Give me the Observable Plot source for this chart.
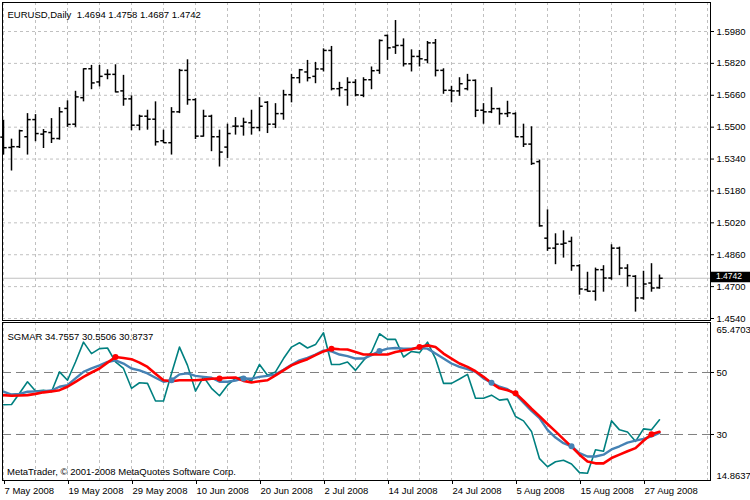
<!DOCTYPE html>
<html><head><meta charset="utf-8">
<script src="https://cdn.jsdelivr.net/npm/d3@7"></script>
<script src="https://cdn.jsdelivr.net/npm/@observablehq/plot@0.6"></script>
<style>
body{margin:0;background:#fff;}
#chart{position:relative;width:750px;height:500px;background:#fff;overflow:hidden;}
#chart svg{position:absolute;left:0;display:block;}
</style></head><body><div id="chart"></div>
<script>
// ---------- data ----------
const opens  = [1.5450,1.5398,1.5402,1.5452,1.5538,1.5465,1.5473,1.5443,1.5594,1.5515,1.5648,1.5793,1.5727,1.5765,1.5765,1.5682,1.5642,1.5510,1.5555,1.5540,1.5432,1.5422,1.5577,1.5785,1.5638,1.5455,1.5555,1.5452,1.5400,1.5505,1.5505,1.5522,1.5498,1.5625,1.5515,1.5568,1.5663,1.5748,1.5777,1.5755,1.5792,1.5885,1.5693,1.5688,1.5725,1.5660,1.5738,1.5785,1.5960,1.5902,1.5910,1.5818,1.5855,1.5838,1.5923,1.5785,1.5685,1.5682,1.5693,1.5735,1.5585,1.5577,1.5593,1.5568,1.5568,1.5452,1.5415,1.5327,1.4943,1.4893,1.4913,1.4927,1.4805,1.4685,1.4677,1.4785,1.4743,1.4893,1.4793,1.4752,1.4643,1.4718,1.4694];
const highs  = [1.5535,1.5440,1.5485,1.5568,1.5563,1.5488,1.5543,1.5598,1.5632,1.5680,1.5793,1.5810,1.5810,1.5788,1.5813,1.5760,1.5657,1.5560,1.5585,1.5627,1.5485,1.5598,1.5790,1.5838,1.5643,1.5585,1.5560,1.5485,1.5515,1.5548,1.5545,1.5585,1.5648,1.5628,1.5618,1.5685,1.5765,1.5790,1.5835,1.5825,1.5893,1.5905,1.5725,1.5748,1.5738,1.5748,1.5802,1.5938,1.5962,1.6035,1.5943,1.5888,1.5885,1.5930,1.5940,1.5793,1.5705,1.5748,1.5765,1.5737,1.5618,1.5698,1.5595,1.5630,1.5572,1.5515,1.5502,1.5335,1.5085,1.4965,1.4980,1.4948,1.4810,1.4772,1.4793,1.4805,1.4910,1.4898,1.4810,1.4755,1.4777,1.4815,1.4758];
const lows   = [1.5360,1.5280,1.5393,1.5360,1.5427,1.5393,1.5418,1.5435,1.5499,1.5499,1.5627,1.5688,1.5702,1.5738,1.5672,1.5605,1.5482,1.5482,1.5485,1.5405,1.5418,1.5360,1.5568,1.5610,1.5438,1.5450,1.5377,1.5300,1.5343,1.5460,1.5455,1.5460,1.5477,1.5468,1.5493,1.5535,1.5622,1.5718,1.5727,1.5718,1.5777,1.5682,1.5652,1.5605,1.5652,1.5648,1.5688,1.5765,1.5835,1.5865,1.5802,1.5777,1.5802,1.5818,1.5752,1.5665,1.5622,1.5655,1.5682,1.5548,1.5515,1.5568,1.5510,1.5548,1.5447,1.5398,1.5308,1.4998,1.4877,1.4810,1.4843,1.4777,1.4657,1.4672,1.4627,1.4672,1.4732,1.4755,1.4698,1.4572,1.4632,1.4672,1.4687];
const closes = [1.5397,1.5402,1.5482,1.5538,1.5468,1.5477,1.5443,1.5577,1.5514,1.5652,1.5793,1.5722,1.5755,1.5765,1.5677,1.5642,1.5510,1.5555,1.5540,1.5427,1.5422,1.5577,1.5785,1.5638,1.5455,1.5555,1.5452,1.5375,1.5468,1.5505,1.5525,1.5498,1.5605,1.5515,1.5568,1.5663,1.5748,1.5788,1.5748,1.5792,1.5885,1.5693,1.5698,1.5725,1.5662,1.5738,1.5783,1.5935,1.5898,1.5910,1.5818,1.5855,1.5843,1.5923,1.5785,1.5685,1.5682,1.5718,1.5735,1.5585,1.5577,1.5593,1.5568,1.5572,1.5452,1.5415,1.5318,1.5005,1.4893,1.4913,1.4918,1.4805,1.4688,1.4677,1.4785,1.4743,1.4893,1.4793,1.4755,1.4643,1.4713,1.4693,1.4742];

const sgmarRaw  = [39.6,39.7,43.3,47.0,44.0,44.3,43.8,50.2,47.5,53.4,59.8,56.1,57.7,57.9,53.4,51.3,44.9,46.7,46.5,40.8,40.8,49.7,58.2,52.3,44.0,48.6,44.9,42.5,45.9,48.1,48.6,47.2,52.6,49.1,50.2,54.5,58.2,59.6,57.9,59.0,62.8,52.6,52.6,53.4,50.7,53.9,56.6,62.5,60.7,60.7,55.0,56.8,56.4,59.8,54.5,46.5,46.5,47.9,49.4,41.7,41.7,42.7,41.1,41.4,35.8,34.4,31.0,22.2,19.6,21.2,21.7,20.5,17.7,17.5,25.1,24.6,34.4,31.5,30.8,27.8,31.8,31.5,34.7557];
const sgmarFast = [43.8,42.9,43.1,43.8,43.9,44.0,44.2,45.4,45.9,48.1,50.2,51.3,52.3,53.4,53.9,52.9,51.3,50.7,49.7,48.3,47.0,47.5,49.4,49.7,48.9,48.6,48.3,47.0,47.0,47.4,48.1,48.0,48.6,48.9,49.4,50.9,52.5,53.9,54.7,55.8,57.1,56.8,55.8,55.3,54.5,54.5,55.6,56.9,57.7,57.9,57.7,57.7,57.9,57.7,56.1,54.5,52.9,51.8,51.1,50.2,48.1,46.7,45.4,44.6,42.9,40.3,37.6,35.3,31.5,29.0,27.2,26.2,24.0,22.9,22.9,23.5,25.2,26.2,27.4,28.0,28.6,29.4,30.5506];
const sgmarSlow = [42.7,42.5,42.6,42.7,43.1,43.6,43.9,44.3,45.4,47.0,48.6,50.0,51.3,53.2,55.0,54.7,54.3,53.2,51.8,49.6,47.5,47.2,47.5,47.5,47.5,47.7,48.0,48.1,48.3,48.4,47.3,46.8,47.2,47.5,49.1,50.7,52.3,53.4,54.3,55.6,56.8,57.7,57.5,57.4,56.6,55.8,55.8,55.8,55.8,56.6,57.1,57.5,58.2,58.75,58.2,56.1,54.5,52.9,51.8,50.4,48.6,46.6,44.9,44.3,43.3,40.9,38.3,35.9,33.4,31.0,28.5,26.1,23.5,21.3,20.7,20.7,22.4,23.5,24.6,25.6,28.0,30.1,30.8737];
const sellSignalBars = [14,27,41,52,64,81];   // red dots
const buySignalBars  = [21,30,47,61,71];      // steel-blue dots

const priceTicks = [1.5980,1.5820,1.5660,1.5500,1.5340,1.5180,1.5020,1.4860,1.4700,1.4540];
const levelTicks = [50,30];
const indicatorMax = 65.4703;
const indicatorMin = 14.8637;
const dateTickBars = [0,8,16,24,32,40,48,56,64,72,80];
const dateTickLabels = ["7 May 2008","19 May 2008","29 May 2008","10 Jun 2008","20 Jun 2008","2 Jul 2008","14 Jul 2008","24 Jul 2008","5 Aug 2008","15 Aug 2008","27 Aug 2008"];
const headerText = "EURUSD,Daily  1.4694 1.4758 1.4687 1.4742";
const indicatorTitle = "SGMAR 34.7557 30.5506 30.8737";
const copyrightText = "MetaTrader, \u00a9 2001-2008 MetaQuotes Software Corp.";
const lastPrice = 1.4742;

// ---------- build ----------
const FONT = '"Liberation Sans", Arial, sans-serif';
const bars = opens.map((o, i) => ({i, o, h: highs[i], l: lows[i], c: closes[i]}));
const ind = sgmarRaw.map((v, i) => ({i, raw: v, fast: sgmarFast[i], slow: sgmarSlow[i]}));
const gridBars = d3.range(0, 89, 4);
const xDomain = [-0.125, 88.375];
const grid = {stroke: "#c0c0c0", strokeDasharray: "3,3", strokeWidth: 1};
const tickHalf = 0.4;
const style = {fontFamily: FONT, fontSize: "9.5px", color: "black", background: "transparent", overflow: "visible"};

const main = Plot.plot({
  width: 750, height: 322,
  marginLeft: 2, marginRight: 40, marginTop: 2, marginBottom: 2,
  x: {domain: xDomain, axis: null},
  y: {domain: [1.452997, 1.612551], axis: null},
  style,
  marks: [
    Plot.ruleY(priceTicks, grid),
    Plot.ruleX(gridBars, grid),
    Plot.ruleY([lastPrice], {stroke: "#c0c0c0", strokeWidth: 1}),
    Plot.ruleX(bars, {x: "i", y1: "l", y2: "h", stroke: "black", strokeWidth: 1.5}),
    Plot.link(bars, {x1: d => d.i - tickHalf, x2: "i", y1: "o", y2: "o", stroke: "black", strokeWidth: 1.5}),
    Plot.link(bars, {x1: "i", x2: d => d.i + tickHalf, y1: "c", y2: "c", stroke: "black", strokeWidth: 1.5}),
    Plot.frame({stroke: "black", strokeWidth: 1}),
    Plot.axisY(priceTicks, {anchor: "right", label: null, tickSize: 3, tickPadding: 3, tickFormat: d => d.toFixed(4), fill: "black", stroke: "black"}),
    Plot.text([headerText], {frameAnchor: "top-left", dx: 5, dy: 9, textAnchor: "start", fill: "black"})
  ]
});

const indPlot = Plot.plot({
  width: 750, height: 180,
  marginLeft: 2, marginRight: 40, marginTop: 2, marginBottom: 20,
  x: {domain: xDomain, axis: null},
  y: {domain: [15.161, 66.129], axis: null},
  style,
  marks: [
    Plot.ruleX(gridBars, grid),
    Plot.ruleY(levelTicks, {stroke: "#808080", strokeDasharray: "9,5", strokeWidth: 1}),
    Plot.line(ind, {x: "i", y: "raw", stroke: "#008080", strokeWidth: 1.6, strokeLinejoin: "round"}),
    Plot.line(ind, {x: "i", y: "fast", stroke: "#4682B4", strokeWidth: 2.4, strokeLinejoin: "round"}),
    Plot.line(ind, {x: "i", y: "slow", stroke: "#FF0000", strokeWidth: 2.6, strokeLinejoin: "round"}),
    Plot.dot(sellSignalBars, {x: d => d, y: d => sgmarSlow[d], r: 3, fill: "#FF0000"}),
    Plot.dot(buySignalBars, {x: d => d, y: d => sgmarFast[d], r: 3, fill: "#4682B4"}),
    Plot.frame({stroke: "black", strokeWidth: 1}),
    Plot.axisY(levelTicks, {anchor: "right", label: null, tickSize: 3, tickPadding: 3, tickFormat: d => String(d), fill: "black", stroke: "black"}),
    Plot.text([indicatorMax], {y: d => d, frameAnchor: "right", dx: 6, dy: 5.5, textAnchor: "start", text: d => d.toFixed(4), fill: "black"}),
    Plot.text([indicatorMin], {y: d => d, frameAnchor: "right", dx: 6, dy: -5, textAnchor: "start", text: d => d.toFixed(4), fill: "black"}),
    Plot.axisX(dateTickBars, {anchor: "bottom", label: null, tickSize: 4, tickPadding: 3, textAnchor: "start", dx: 1, tickFormat: d => dateTickLabels[dateTickBars.indexOf(d)], fill: "black", stroke: "black"}),
    Plot.text([indicatorTitle], {frameAnchor: "top-left", dx: 5, dy: 10.5, textAnchor: "start", fill: "black"}),
    Plot.text([copyrightText], {frameAnchor: "bottom-left", dx: 4.5, dy: -6, textAnchor: "start", fill: "black"})
  ]
});

const chart = document.getElementById("chart");
main.style.top = "0px";
indPlot.style.top = "320px";
chart.appendChild(main);
chart.appendChild(indPlot);

// last price marker on the right axis (positioned through Plot's y scale)
const py = main.scale("y").apply(lastPrice) + 0.5;
const svg = d3.select(main);
svg.append("rect").attr("x", 711).attr("y", py - 6.5).attr("width", 39).attr("height", 10.5).attr("fill", "black");
svg.append("text").attr("x", 716).attr("y", py - 1.8).attr("dy", "0.35em").attr("text-anchor", "start")
  .attr("fill", "white").attr("font-family", FONT).attr("font-size", "8.5px").text(lastPrice.toFixed(4));
</script></body></html>
